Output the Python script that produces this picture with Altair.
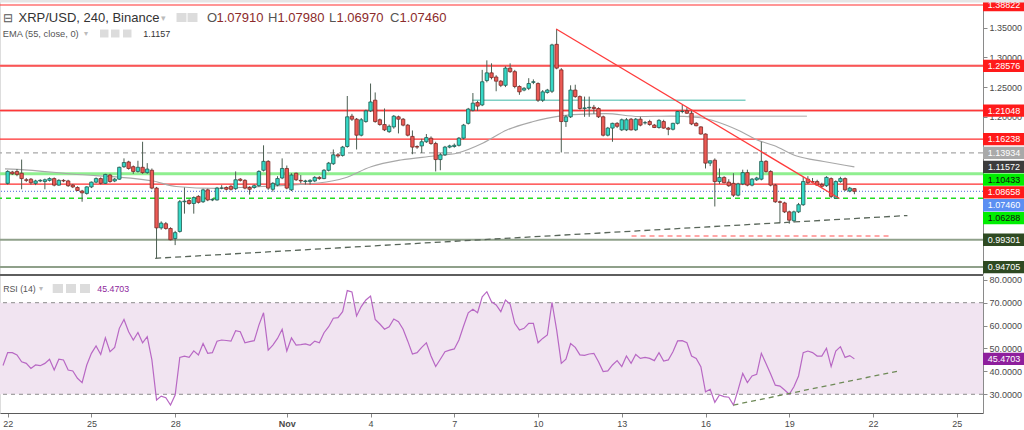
import altair as alt
import pandas as pd

# ---------------- data (4h candles, bar 0 = 22 Oct 00:00) ----------------
opens = [1.088,1.107,1.108,1.105,1.094,1.095,1.088,1.092,1.091,1.093,
         1.096,1.085,1.093,1.092,1.085,1.081,1.075,1.071,1.082,1.090,
         1.096,1.088,1.102,1.092,1.095,1.116,1.124,1.116,1.108,1.115,
         1.106,1.110,1.080,1.013,1.020,1.012,0.995,1.007,1.057,1.059,
         1.054,1.066,1.057,1.077,1.060,1.060,1.080,1.081,1.083,1.079,
         1.095,1.093,1.081,1.081,1.084,1.110,1.125,1.078,1.085,1.097,
         1.113,1.077,1.105,1.093,1.091,1.091,1.092,1.098,1.096,1.110,
         1.121,1.136,1.135,1.150,1.201,1.196,1.169,1.192,1.210,1.228,
         1.195,1.187,1.175,1.183,1.200,1.196,1.186,1.167,1.150,1.151,
         1.158,1.164,1.155,1.128,1.136,1.149,1.150,1.152,1.164,1.189,
         1.211,1.224,1.220,1.261,1.274,1.267,1.260,1.253,1.282,1.276,
         1.251,1.245,1.248,1.258,1.256,1.228,1.241,1.243,1.322,1.279,
         1.192,1.200,1.245,1.234,1.214,1.215,1.216,1.214,1.200,1.169,
         1.181,1.189,1.178,1.178,1.196,1.178,1.196,1.190,1.192,1.186,
         1.182,1.192,1.181,1.179,1.189,1.209,1.210,1.206,1.189,1.183,
         1.171,1.122,1.127,1.091,1.098,1.090,1.088,1.068,1.087,1.106,
         1.085,1.094,1.095,1.125,1.108,1.085,1.057,1.055,1.040,1.025,
         1.040,1.052,1.095,1.091,1.091,1.086,1.084,1.096,1.063,1.091,
         1.096,1.075,1.0791]
highs = [1.110,1.109,1.112,1.128,1.097,1.097,1.094,1.095,1.096,1.098,
         1.098,1.095,1.095,1.094,1.087,1.083,1.077,1.083,1.091,1.098,
         1.098,1.104,1.104,1.097,1.116,1.130,1.126,1.118,1.126,1.158,
         1.122,1.113,1.082,1.024,1.023,1.014,1.008,1.060,1.081,1.062,
         1.066,1.068,1.079,1.079,1.063,1.082,1.085,1.083,1.085,1.108,
         1.097,1.095,1.083,1.086,1.110,1.152,1.127,1.090,1.100,1.130,
         1.118,1.105,1.106,1.102,1.094,1.095,1.100,1.100,1.112,1.124,
         1.145,1.139,1.151,1.235,1.205,1.198,1.198,1.212,1.256,1.241,
         1.197,1.214,1.187,1.203,1.202,1.198,1.188,1.177,1.152,1.163,
         1.171,1.167,1.158,1.139,1.151,1.153,1.155,1.166,1.188,1.215,
         1.240,1.227,1.279,1.295,1.290,1.270,1.262,1.285,1.290,1.279,
         1.253,1.250,1.265,1.263,1.258,1.245,1.247,1.323,1.348,1.282,
         1.203,1.253,1.254,1.236,1.234,1.234,1.220,1.216,1.202,1.183,
         1.190,1.191,1.197,1.198,1.198,1.198,1.200,1.193,1.195,1.188,
         1.196,1.195,1.183,1.190,1.210,1.220,1.216,1.211,1.191,1.184,
         1.172,1.126,1.130,1.113,1.100,1.095,1.105,1.089,1.111,1.111,
         1.097,1.099,1.158,1.127,1.110,1.087,1.059,1.057,1.042,1.042,
         1.055,1.099,1.100,1.097,1.094,1.089,1.100,1.098,1.093,1.099,
         1.098,1.082,1.0798]
lows = [1.086,1.102,1.100,1.078,1.090,1.086,1.085,1.090,1.078,1.091,
        1.083,1.084,1.090,1.082,1.080,1.075,1.057,1.069,1.080,1.088,
        1.086,1.087,1.089,1.090,1.094,1.114,1.111,1.104,1.106,1.104,
        1.104,1.078,0.962,1.010,1.010,0.992,0.984,1.005,1.037,1.052,
        1.037,1.054,1.055,1.058,1.058,1.059,1.078,1.076,1.076,1.077,
        1.091,1.078,1.069,1.079,1.082,1.108,1.077,1.074,1.083,1.095,
        1.078,1.075,1.092,1.088,1.086,1.086,1.090,1.094,1.095,1.108,
        1.119,1.131,1.133,1.148,1.193,1.145,1.167,1.190,1.208,1.190,
        1.185,1.176,1.173,1.180,1.172,1.184,1.167,1.137,1.146,1.139,
        1.156,1.153,1.108,1.110,1.134,1.147,1.148,1.150,1.162,1.187,
        1.209,1.210,1.218,1.258,1.263,1.243,1.250,1.250,1.274,1.248,
        1.237,1.243,1.245,1.255,1.225,1.225,1.239,1.240,1.280,1.140,
        1.183,1.198,1.232,1.212,1.200,1.200,1.205,1.198,1.167,1.167,
        1.158,1.181,1.176,1.176,1.177,1.176,1.184,1.187,1.185,1.181,
        1.180,1.180,1.169,1.177,1.187,1.206,1.205,1.186,1.184,1.170,
        1.113,1.117,1.049,1.087,1.088,1.082,1.065,1.066,1.085,1.083,
        1.083,1.092,1.093,1.106,1.083,1.055,1.021,1.038,1.020,1.022,
        1.038,1.050,1.087,1.088,1.084,1.080,1.082,1.063,1.062,1.089,
        1.075,1.073,1.0697]
closes = [1.108,1.104,1.103,1.096,1.093,1.089,1.092,1.093,1.094,1.096,
          1.085,1.093,1.092,1.084,1.082,1.076,1.072,1.082,1.090,1.096,
          1.088,1.103,1.091,1.095,1.115,1.123,1.113,1.108,1.115,1.106,
          1.112,1.080,1.013,1.021,1.012,0.993,1.005,1.057,1.058,1.054,
          1.064,1.056,1.077,1.060,1.061,1.080,1.080,1.078,1.078,1.094,
          1.093,1.080,1.078,1.084,1.108,1.125,1.080,1.088,1.096,1.113,
          1.080,1.102,1.094,1.092,1.092,1.093,1.098,1.096,1.110,1.122,
          1.136,1.134,1.149,1.200,1.196,1.169,1.195,1.210,1.225,1.192,
          1.187,1.178,1.184,1.201,1.196,1.186,1.169,1.149,1.149,1.158,
          1.165,1.155,1.128,1.136,1.149,1.151,1.152,1.164,1.186,1.213,
          1.223,1.218,1.259,1.274,1.266,1.260,1.253,1.282,1.276,1.251,
          1.242,1.248,1.256,1.259,1.228,1.242,1.245,1.321,1.282,1.192,
          1.200,1.245,1.234,1.214,1.215,1.216,1.214,1.200,1.169,1.181,
          1.189,1.184,1.195,1.195,1.178,1.196,1.186,1.190,1.187,1.182,
          1.194,1.181,1.179,1.189,1.209,1.209,1.206,1.188,1.185,1.171,
          1.122,1.126,1.091,1.098,1.089,1.084,1.068,1.087,1.106,1.085,
          1.095,1.097,1.125,1.108,1.085,1.057,1.056,1.040,1.026,1.040,
          1.052,1.091,1.089,1.090,1.085,1.083,1.098,1.066,1.091,1.096,
          1.077,1.080,1.0746]

# RSI(14), starting one bar before the first visible candle
rsi_start = -1
rsi_values = [42.6,
    48.2,48.2,47.2,44.2,43.5,41.3,42.8,42.5,43.5,45.3,
    40.6,45.3,45.0,40.6,40.2,37.0,35.1,42.8,47.9,51.1,
    47.4,54.7,48.6,50.5,58.8,62.7,57.3,53.7,57.0,52.5,
    55.2,45.0,27.5,29.2,28.5,25.3,29.7,46.1,46.7,46.1,
    49.0,47.2,52.2,47.9,48.2,53.2,53.7,53.5,53.2,57.8,
    57.3,52.5,53.0,53.4,60.2,65.6,49.3,51.5,54.4,58.4,
    48.9,54.6,51.5,51.7,52.0,51.4,53.2,52.5,56.9,59.5,
    63.2,63.5,66.1,75.3,74.7,64.2,68.3,71.2,72.9,62.7,
    60.7,58.4,59.5,62.9,61.7,58.4,53.2,47.6,48.2,50.5,
    52.5,46.7,42.1,45.3,48.6,49.3,49.8,53.7,59.8,65.6,
    67.1,65.6,72.6,74.8,70.4,69.0,66.1,71.2,69.4,61.0,
    58.1,58.8,61.0,61.0,52.5,54.4,55.9,70.2,58.1,43.5,
    45.3,52.2,50.5,47.2,47.0,47.6,47.9,44.2,39.9,40.2,
    42.8,44.7,42.1,46.7,43.5,47.4,45.7,46.1,45.7,44.7,
    48.2,44.5,45.0,48.6,53.3,53.4,52.5,46.7,45.7,42.1,
    31.1,32.2,26.5,29.7,29.0,28.7,25.3,31.9,39.1,35.1,
    38.0,38.7,47.9,43.5,38.9,34.0,33.6,31.9,30.0,33.3,
    38.0,48.2,48.9,48.2,46.7,46.7,50.1,42.1,48.9,50.8,
    46.1,46.9,45.4703]

# EMA(55) read at its turning points (bar index, price)
ema_bar = [-0.57, 2.2, 13.7, 31.3, 36.2, 44.8, 54.7, 66.8, 72.4, 78.1, 84.5, 91.6,
           96.7, 102.2, 107.3, 112.8, 118.6, 122.8, 128.6, 135.6, 142.6, 148.4,
           152.6, 156.9, 161.1, 164.7, 169.6, 175.4, 182]
ema_price = [1.1125, 1.1116, 1.1037, 1.0919, 1.0827, 1.0796, 1.0827, 1.0886, 1.0970,
             1.1160, 1.1273, 1.1340, 1.1391, 1.1559, 1.1778, 1.1917, 1.2013, 1.2042,
             1.2055, 1.2005, 1.2013, 1.1988, 1.1913, 1.1778, 1.1610, 1.1517, 1.1340,
             1.1248, 1.1157]

# horizontal price levels drawn on the chart
lv_red = [1.38822, 1.16238, 1.08658]
lv_red_soft = [1.28576, 1.21048]
lv_gray_dash = [1.13934]
lv_green = [1.10433]
lv_blue_dot = [1.07460]
lv_green_dash = [1.06288]
lv_olive = [0.99301, 0.94705]

# price tags on the right scale
tag_values = [1.38822, 1.28576, 1.21048, 1.16238, 1.13934, 1.11572, 1.10433,
              1.08658, 1.07460, 1.06288, 0.99301, 0.94705]
tag_fill = ["#ff1a1a", "#ff1a1a", "#ff1a1a", "#ff1a1a", "#a9a9a9", "#3c3c3c",
            "#00ee00", "#ff1a1a", "#5b8ff2", "#00ee00", "#2f4a22", "#2f4a22"]
tag_ink = ["white", "white", "white", "white", "white", "white",
           "#111111", "white", "white", "#111111", "white", "white"]

# trend lines (bar index, value)
red_trend = {"k": [117.9], "k2": [178.8], "p": [1.3478], "p2": [1.0625]}
support_trend = {"k": [31.7], "k2": [193.4], "p": [0.9618], "p2": [1.0338]}
pink_dash = {"k": [134.1], "k2": [189.8], "p": [0.9993], "p2": [0.9993]}
teal_seg = {"k": [99.85], "k2": [158.6], "p": [1.2280], "p2": [1.2280]}
gray_seg = {"k": [146.2], "k2": [171.8], "p": [1.2010], "p2": [1.2010]}
rsi_trend = {"k": [156.0], "k2": [191.5], "v": [25.3], "v2": [40.2]}

# axis labels (only those the platform leaves uncovered by tags)
price_ticks = [1.2, 1.25, 1.3, 1.35]
rsi_ticks = [30, 40, 50, 60, 70, 80]
tick_bars = [0, 18, 36, 60, 78, 96, 114, 132, 150, 168, 186, 204]
tick_text = ["22", "25", "28", "Nov", "4", "7", "10", "13", "16", "19", "22", "25"]

# ---------------- layout / styles ----------------
W, H = 983, 413
P_RANGE = [274, 0]
R_RANGE = [413, 276]
price_dom = [0.93536, 1.39664]
rsi_dom = [21.83, 81.66]
x_dom = [-0.574, 208.57]
FONT = "Liberation Sans"
UP, UP_S = "#35d8c6", "#1f5c50"
DN, DN_S = "#ec5a55", "#7a2826"
WICK = "#4c5e52"

xs = alt.Scale(domain=x_dom, nice=False, zero=False)
XAXIS = alt.Axis(
    values=tick_bars, grid=False, orient="bottom",
    labelExpr="[" + ",".join(f"'{t}'" for t in tick_text) + "][indexof(["
              + ",".join(str(v) for v in tick_bars) + "], datum.value)]",
    labelFontSize=9, labelColor="#4a4a4a", labelFont=FONT,
    labelFontWeight={"condition": {"test": "datum.value == 60", "value": "bold"}, "value": "normal"},
    labelFlush=False, labelPadding=2, tickSize=4, tickColor="#8a8a8a",
    domainColor="#5a5a5a", title=None)


def X(field="k"):
    return alt.X(f"{field}:Q", scale=xs, axis=XAXIS)


def YP(field, axis=None):
    return alt.Y(f"{field}:Q", axis=axis,
                 scale=alt.Scale(domain=price_dom, range=P_RANGE, nice=False, zero=False))


def YR(field, axis=None):
    return alt.Y(f"{field}:Q", axis=axis,
                 scale=alt.Scale(domain=rsi_dom, range=R_RANGE, nice=False, zero=False))


n = len(opens)
bars = pd.DataFrame({"k": list(range(n)), "open": opens, "high": highs,
                     "low": lows, "close": closes})
is_up = "datum.close >= datum.open"

layers = []

# RSI band and guides
layers.append(alt.Chart(pd.DataFrame({"lo": [30], "hi": [70]})).mark_rect(color="#f1e4f1").encode(
    x=alt.value(0), x2=alt.value(W), y=YR("lo"), y2="hi"))
layers.append(alt.Chart(pd.DataFrame({"v": [30, 70]})).mark_rule(
    color="#8c8c8c", strokeDash=[4, 4], strokeWidth=1).encode(y=YR("v")))


def hlines(vals, color, width=1.0, dash=None, opacity=1.0):
    kw = dict(color=color, strokeWidth=width, opacity=opacity)
    if dash:
        kw["strokeDash"] = dash
    return alt.Chart(pd.DataFrame({"p": vals})).mark_rule(**kw).encode(y=YP("p"))


layers += [
    hlines(lv_olive, "#8fa08a", 2.0),
    hlines(lv_green, "#8fef8f", 3.0),
    hlines(lv_gray_dash, "#a8a8a8", 1.2, [5, 4]),
    hlines(lv_red_soft, "#f39a9a", 2.5),
    hlines(lv_red_soft, "#ff3030", 1.0),
    hlines(lv_red, "#ff2e2e", 1.2),
    hlines(lv_blue_dot, "#4a66d8", 1.0, [1, 2]),
    hlines(lv_green_dash, "#22dd22", 1.5, [5, 4]),
]


def seg(d, color, width, dash=None):
    kw = dict(color=color, strokeWidth=width)
    if dash:
        kw["strokeDash"] = dash
    return alt.Chart(pd.DataFrame(d)).mark_rule(**kw).encode(
        x=X("k"), x2="k2", y=YP("p"), y2="p2")


layers += [
    seg(teal_seg, "#7fcfc4", 1.5),
    seg(gray_seg, "#c8c8c8", 1.5),
    seg(pink_dash, "#ff8a8a", 1.5, [5, 4]),
]

# EMA
layers.append(alt.Chart(pd.DataFrame({"k": ema_bar, "p": ema_price})).mark_line(
    color="#a8a8a8", strokeWidth=1.2, clip=True, interpolate="monotone").encode(x=X("k"), y=YP("p")))

# candles
layers.append(alt.Chart(bars).mark_rule(color=WICK, strokeWidth=1, clip=True).encode(
    x=X("k"), y=YP("low"), y2="high"))
layers.append(alt.Chart(bars).mark_bar(size=3.4, strokeWidth=0.8, clip=True).encode(
    x=X("k"),
    y=YP("open", axis=alt.Axis(orient="right", values=price_ticks, format=".5f", grid=False,
                               labelFontSize=9, labelColor="#4a4a4a", labelFont=FONT,
                               tickSize=4, tickColor="#8a8a8a", domainColor="#8a8a8a",
                               labelPadding=2, title=None, labelFlush=False)),
    y2="close",
    color=alt.condition(is_up, alt.value(UP), alt.value(DN)),
    stroke=alt.condition(is_up, alt.value(UP_S), alt.value(DN_S)),
))

# support trendline and red resistance trendline
layers.append(seg(support_trend, "#59665a", 1.3, [6, 4]))
layers.append(seg(red_trend, "#ff3b3b", 1.3))

# RSI line & trend
rsi_df = pd.DataFrame({"k": list(range(rsi_start, rsi_start + len(rsi_values))), "v": rsi_values})
layers.append(alt.Chart(rsi_df).mark_line(color="#b868c4", strokeWidth=1.2, clip=True).encode(
    x=X("k"),
    y=YR("v", axis=alt.Axis(orient="right", values=rsi_ticks, format=".4f", grid=False,
                            labelFontSize=9, labelColor="#4a4a4a", labelFont=FONT,
                            tickSize=4, tickColor="#8a8a8a", domainColor="#8a8a8a",
                            labelPadding=2, title=None, labelFlush=False))))
layers.append(alt.Chart(pd.DataFrame(rsi_trend)).mark_rule(
    color="#6f8a58", strokeWidth=1.3, strokeDash=[5, 4]).encode(x=X("k"), x2="k2", y=YR("v"), y2="v2"))

# panel separator
layers.append(alt.Chart(pd.DataFrame({"a": [0]})).mark_rule(color="#5e5e5e", strokeWidth=2).encode(
    x=alt.value(0), x2=alt.value(W), y=alt.value(275)))

# price tags: stacked so that they don't overlap (as the platform does)
px_per_unit = (P_RANGE[0] - P_RANGE[1]) / (price_dom[1] - price_dom[0])
gap = 12.8 / px_per_unit
order = sorted(range(len(tag_values)), key=lambda i: -tag_values[i])
shown = {}
prev = None
for i in order:
    v = tag_values[i] if prev is None else min(tag_values[i], prev - gap)
    shown[i] = v
    prev = v
tags = pd.DataFrame({"val": tag_values, "at": [shown[i] for i in range(len(tag_values))],
                     "fill": tag_fill, "ink": tag_ink,
                     "label": [f"{v:.5f}" for v in tag_values]})
BOX = "M-1,-0.3L1,-0.3L1,0.3L-1,0.3Z"
layers.append(alt.Chart(tags).mark_point(shape=BOX, size=41 * 41, filled=True, opacity=1,
                                         strokeWidth=0).encode(
    x=alt.value(1003.5), y=YP("at"), color=alt.Color("fill:N", scale=None)))
layers.append(alt.Chart(tags).mark_text(fontSize=9, font=FONT, align="center", baseline="middle").encode(
    x=alt.value(1004), y=YP("at"), text="label:N", color=alt.Color("ink:N", scale=None)))

rsi_tag = pd.DataFrame({"v": [rsi_values[-1]], "label": [f"{rsi_values[-1]:.4f}"]})
layers.append(alt.Chart(rsi_tag).mark_point(shape=BOX, size=41 * 41, filled=True, opacity=1,
                                            strokeWidth=0, color="#8e1f9c").encode(
    x=alt.value(1003.5), y=YR("v")))
layers.append(alt.Chart(rsi_tag).mark_text(fontSize=9, font=FONT, color="white", align="center",
                                           baseline="middle").encode(
    x=alt.value(1004), y=YR("v"), text="label:N"))


# header texts
def txt(s, x, y, size, color, weight="normal"):
    return alt.Chart(pd.DataFrame({"t": [s]})).mark_text(
        fontSize=size, font=FONT, color=color, align="left", baseline="middle",
        fontWeight=weight).encode(x=alt.value(x), y=alt.value(y), text="t:N")


def box(x0, x1, y0, y1, color="#dcdcdc"):
    return alt.Chart(pd.DataFrame({"a": [0]})).mark_rect(color=color).encode(
        x=alt.value(x0), x2=alt.value(x1), y=alt.value(y0), y2=alt.value(y1))


layers += [
    txt("⊟", 3, 17.5, 12, "#555555"),
    txt("XRP/USD, 240, Binance", 18.5, 17.5, 13, "#333333"),
    txt("▾", 161, 17.5, 9, "#bbbbbb"),
    box(176.5, 186.5, 13, 22), box(187.5, 197.5, 13, 22),
    txt("O", 207, 17.5, 13, "#555555"), txt("1.07910", 216.5, 17.5, 13, "#8c2b2b"),
    txt("H", 268, 17.5, 13, "#555555"), txt("1.07980", 277.5, 17.5, 13, "#8c2b2b"),
    txt("L", 329, 17.5, 13, "#555555"), txt("1.06970", 336.5, 17.5, 13, "#8c2b2b"),
    txt("C", 390, 17.5, 13, "#555555"), txt("1.07460", 399.5, 17.5, 13, "#8c2b2b"),
    txt("EMA (55, close, 0)", 2.7, 33.5, 9.3, "#555555"),
    txt("▾", 84, 33.5, 8, "#bbbbbb"),
    box(100, 108.5, 29.5, 37.5), box(111, 119.5, 29.5, 37.5), box(123, 131.5, 29.5, 37.5),
    txt("1.1157", 143.3, 33.5, 9, "#333333"),
    txt("RSI (14)", 3.3, 288.5, 8.7, "#555555"),
    txt("▾", 39, 288.5, 8, "#bbbbbb"),
    box(52.7, 63, 284, 293), box(66, 76, 284, 293), box(80, 90, 284, 293),
    txt("45.4703", 97.3, 288.5, 8.8, "#8e1f9c"),
    box(0, 1024, 0, 2.5, "#e6e6e6"),
]

chart = alt.layer(*layers).resolve_scale(y="independent").properties(
    width=W, height=H,
    padding={"left": 0, "top": 0, "right": 41, "bottom": 17},
    autosize=alt.AutoSizeParams(type="none"),
).configure_view(stroke=None).configure(background="white")

chart.save("out.html", embed_options={"renderer": "svg", "actions": False})
